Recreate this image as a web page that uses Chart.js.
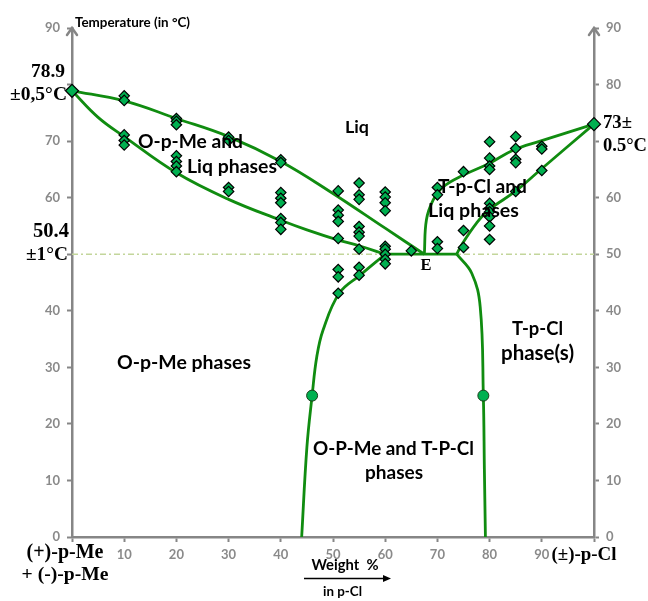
<!DOCTYPE html>
<html><head><meta charset="utf-8">
<script src="https://cdn.jsdelivr.net/npm/chart.js@4.4.0/dist/chart.umd.min.js"></script>
<style>html,body{margin:0;padding:0;background:#fff;}canvas{display:block;}</style>
</head><body>
<canvas id="c" width="648" height="601"></canvas>
<script>
// ---- tick labels ----
const xTickLabels = ['', '10', '20', '30', '40', '50', '60', '70', '80', '90', ''];
const yLeftTickLabels = ['0', '10', '20', '30', '40', '', '60', '70', '', '90'];
const yRightTickLabels = ['0', '10', '20', '30', '40', '50', '60', '', '80', '90'];

// ---- measured points: temperatures (°C) at each composition (wt % p-Cl) ----
const t00 = [78.9];
const t10 = [78.0, 77.2, 71.1, 70.1, 69.3];
const t20 = [74.0, 73.5, 72.9, 67.4, 66.4, 65.6, 64.6];
const t30 = [70.7, 70.1, 61.8, 61.1];
const t40 = [66.7, 66.2, 60.9, 59.9, 59.1, 56.3, 55.6, 54.4];
const t51 = [61.2, 57.8, 56.9, 55.8, 52.8, 47.3, 46.0, 43.1];
const t55 = [62.6, 60.5, 59.7, 54.9, 53.9, 53.2, 50.9, 47.7, 46.3];
const t60 = [61.0, 60.1, 59.1, 57.7, 51.4, 50.9, 50.0, 49.1, 48.3];
const t65 = [50.6];
const t70 = [61.8, 60.5, 52.2, 51.0];
const t75 = [64.6, 54.2, 51.2];
const t80 = [69.9, 67.0, 65.6, 65.0, 59.0, 58.1, 57.5, 56.6, 55.0, 52.6];
const t85 = [70.8, 68.7, 66.8, 66.2, 61.1];
const t90 = [69.1, 68.6, 64.8];
const t100 = [73.0];
const compositions = [0, 10, 20, 30, 40, 51, 55, 60, 65, 70, 75, 80, 85, 90, 100];
const tempGroups = [t00, t10, t20, t30, t40, t51, t55, t60, t65, t70, t75, t80, t85, t90, t100];

// ---- phase boundary curves ----
const liqOMeX = [0, 10, 20, 30, 40, 49.4, 60, 67.5];
const liqOMeY = [78.9, 77.1, 74.0, 70.8, 66.4, 61.1, 54.6, 50.0];
const solOMeX = [0, 5, 10, 20, 30, 40, 45, 51, 55, 60];
const solOMeY = [78.9, 74.2, 70.8, 64.4, 59.7, 56.0, 54.3, 52.5, 51.5, 50.0];
const eutecticX = [60, 73.7];
const eutecticY = [50, 50];
const liqTClX = [67.5, 67.9, 69.2, 71.1, 75, 80, 84.5, 89.7, 100];
const liqTClY = [50, 56.1, 59.6, 61.9, 64.0, 66.1, 68.4, 70.0, 73.0];
const solTClX = [73.7, 74.8, 77.5, 79.8, 84.9, 89.7, 100];
const solTClY = [50, 51.9, 55.5, 57.8, 61.1, 64.9, 73.0];
const leftBoundX = [60, 55.2, 51.2, 48.1, 46.9, 46.0, 45.0, 44.0];
const leftBoundY = [50, 46.3, 43.1, 36.6, 31.9, 25, 15.9, 0];
const rightBoundX = [73.7, 76.6, 78.2, 78.8, 79.0, 79.2];
const rightBoundY = [50, 46.6, 40.7, 25, 12, 0];
const circleX = [46.0, 78.8];
const circleY = [25, 25];
const eutecticLevelX = [0, 100];
const eutecticLevelY = [50, 50];

// ---- build datasets ----
const pairs = (xs, ys) => xs.map((x, i) => ({ x, y: ys[i] }));
const diamonds = [];
compositions.forEach((c, i) => tempGroups[i].forEach(t => diamonds.push({ x: c, y: t })));

const GREEN = '#108c10';
const curve = (xs, ys) => ({
  data: pairs(xs, ys), showLine: true, pointRadius: 0, borderColor: GREEN,
  borderWidth: 2.8, tension: 0.4, order: 2, clip: false, fill: false
});

const SANS = 'Lato, "Open Sans", sans-serif';
const SERIF = '"Liberation Serif", "DejaVu Serif", serif';

// annotation texts (pixel layout)
const notes = [
  { t: 'Temperature (in °C)', x: 75, y: 27, w: 115, f: SANS, a: 'left' },
  { t: '78.9', x: 65, y: 77, w: 34, f: SERIF, a: 'right' },
  { t: '±0,5°C', x: 67, y: 100, w: 57, f: SERIF, a: 'right' },
  { t: '50.4', x: 69, y: 237, w: 36, f: SERIF, a: 'right' },
  { t: '±1°C', x: 68, y: 260, w: 42, f: SERIF, a: 'right' },
  { t: '73±', x: 603, y: 128, w: 29, f: SERIF, a: 'left' },
  { t: '0.5°C', x: 603, y: 151, w: 44, f: SERIF, a: 'left' },
  { t: 'Liq', x: 357, y: 133, w: 24, f: SANS, a: 'center' },
  { t: 'O-p-Me and', x: 190.5, y: 148, w: 105, f: SANS, a: 'center' },
  { t: 'Liq phases', x: 232, y: 173, w: 90, f: SANS, a: 'center' },
  { t: 'T-p-Cl and', x: 482.5, y: 193, w: 89, f: SANS, a: 'center' },
  { t: 'Liq phases', x: 473.5, y: 217, w: 91, f: SANS, a: 'center' },
  { t: 'E', x: 426, y: 270, w: 11, f: SERIF, a: 'center' },
  { t: 'O-p-Me phases', x: 184, y: 369, w: 134, f: SANS, a: 'center' },
  { t: 'T-p-Cl', x: 537.5, y: 335, w: 51, f: SANS, a: 'center' },
  { t: 'phase(s)', x: 537.5, y: 360, w: 73, f: SANS, a: 'center' },
  { t: 'O-P-Me and T-P-Cl', x: 393.5, y: 455, w: 161, f: SANS, a: 'center' },
  { t: 'phases', x: 394, y: 479, w: 58, f: SANS, a: 'center' },
  { t: '(+)-p-Me', x: 65, y: 558, w: 77, f: SERIF, a: 'center' },
  { t: '+ (-)-p-Me', x: 65, y: 580, w: 87, f: SERIF, a: 'center' },
  { t: '(±)-p-Cl', x: 584, y: 560, w: 65, f: SERIF, a: 'center' },
  { t: 'Weight  %', x: 345, y: 570, w: 67, f: SANS, a: 'center' },
  { t: 'in p-Cl', x: 342.5, y: 596, w: 39, f: SANS, a: 'center' }
];

const decor = {
  id: 'decor',
  afterDraw(chart) {
    const ctx = chart.ctx;
    const ca = chart.chartArea;
    ctx.save();
    // axis arrows at top
    ctx.strokeStyle = '#868686';
    ctx.lineWidth = 2.5;
    ctx.lineCap = 'round';
    [ca.left, ca.right].forEach(x => {
      ctx.beginPath();
      ctx.moveTo(x - 5, ca.top + 7);
      ctx.lineTo(x, ca.top);
      ctx.lineTo(x + 5, ca.top + 7);
      ctx.stroke();
    });
    // weight % arrow
    ctx.strokeStyle = '#000';
    ctx.fillStyle = '#000';
    ctx.lineWidth = 1.5;
    ctx.lineCap = 'butt';
    ctx.beginPath();
    ctx.moveTo(304, 578.5);
    ctx.lineTo(384, 578.5);
    ctx.stroke();
    ctx.beginPath();
    ctx.moveTo(391, 578.5);
    ctx.lineTo(383, 575);
    ctx.lineTo(383, 582);
    ctx.closePath();
    ctx.fill();
    // texts
    ctx.fillStyle = '#000';
    ctx.textBaseline = 'alphabetic';
    notes.forEach(n => {
      ctx.font = 'bold 20px ' + n.f;
      const m = ctx.measureText(n.t).width;
      const size = 20 * n.w / m;
      ctx.font = 'bold ' + size.toFixed(2) + 'px ' + n.f;
      ctx.textAlign = n.a;
      ctx.fillText(n.t, n.x, n.y);
    });
    ctx.restore();
  }
};

const tickFont = { family: SANS, size: 13, weight: 'bold' };
const axisGrid = { drawOnChartArea: false, drawTicks: true, tickLength: 5, tickColor: '#868686', tickWidth: 2 };
const axisBorder = { display: true, color: '#868686', width: 2.5 };

new Chart(document.getElementById('c'), {
  type: 'scatter',
  data: {
    datasets: [
      { data: diamonds, pointStyle: 'rectRot', backgroundColor: '#00b050', borderColor: '#000',
        borderWidth: 1.2, pointRadius: ctx => (ctx.raw && (ctx.raw.x === 0 || ctx.raw.x === 100)) ? 6.5 : 5.2,
        order: 0, clip: false },
      { data: pairs(circleX, circleY), pointStyle: 'circle', backgroundColor: '#00b050', borderColor: '#1a3d1a',
        borderWidth: 1, pointRadius: 5.5, order: 0, clip: false },
      curve(liqOMeX, liqOMeY),
      curve(solOMeX, solOMeY),
      curve(eutecticX, eutecticY),
      curve(liqTClX, liqTClY),
      curve(solTClX, solTClY),
      curve(leftBoundX, leftBoundY),
      curve(rightBoundX, rightBoundY),
      { data: pairs(eutecticLevelX, eutecticLevelY), showLine: true, pointRadius: 0, borderColor: '#c3d69b',
        borderWidth: 1.5, borderDash: [6, 3, 2, 3], order: 3, clip: false }
    ]
  },
  options: {
    responsive: false,
    devicePixelRatio: 1,
    animation: false,
    layout: { padding: { top: 28, left: 0, right: 0, bottom: 0 } },
    plugins: { legend: { display: false }, tooltip: { enabled: false } },
    scales: {
      x: {
        type: 'linear', position: 'bottom', min: 0, max: 100,
        ticks: { stepSize: 10, autoSkip: false, maxRotation: 0, color: '#8a8a8a', font: tickFont, padding: 5,
                 callback: (v, i) => xTickLabels[i] },
        grid: axisGrid, border: axisBorder,
        afterFit: s => { s.height = 64; }
      },
      y: {
        type: 'linear', position: 'left', min: 0, max: 90,
        ticks: { stepSize: 10, color: '#8a8a8a', font: tickFont, padding: 7, callback: (v, i) => yLeftTickLabels[i] },
        grid: axisGrid, border: axisBorder,
        afterFit: s => { s.width = 72; }
      },
      y2: {
        type: 'linear', position: 'right', min: 0, max: 90,
        ticks: { stepSize: 10, color: '#8a8a8a', font: tickFont, padding: 7, callback: (v, i) => yRightTickLabels[i] },
        grid: axisGrid, border: axisBorder,
        afterFit: s => { s.width = 54; }
      }
    }
  },
  plugins: [decor]
});
</script>
</body></html>
